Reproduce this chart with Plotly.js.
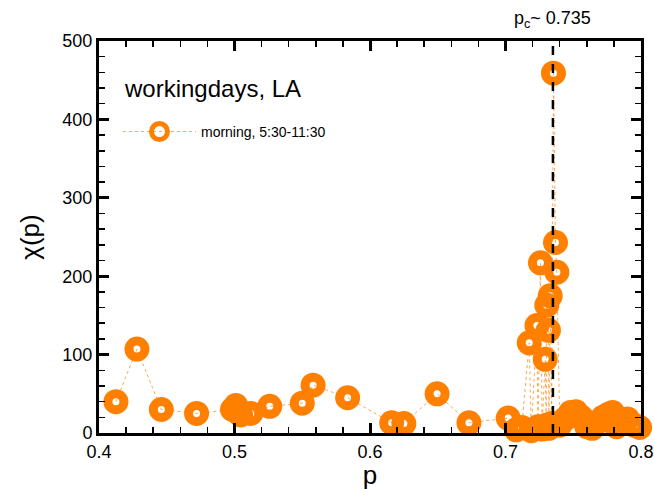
<!DOCTYPE html>
<html>
<head>
<meta charset="utf-8">
<script src="https://cdn.plot.ly/plotly-3.0.1.min.js"></script>
<style>html,body{margin:0;padding:0;background:#fff;}#chart{width:654px;height:490px;}</style>
</head>
<body>
<div id="chart"></div>
<script>
// Occupation probability p
const pValues = [
  0.4125, 0.428, 0.446, 0.472, 0.4985, 0.501, 0.5045, 0.512, 0.526, 0.550,
  0.558, 0.5835, 0.616, 0.625, 0.6495, 0.673,
  0.702, 0.708, 0.712, 0.7175, 0.719, 0.7232, 0.724, 0.7258, 0.727, 0.7293,
  0.730, 0.7305, 0.7317, 0.732, 0.733, 0.734, 0.7354, 0.7369, 0.7379, 0.740,
  0.744, 0.748, 0.752, 0.756, 0.760, 0.764, 0.768, 0.772, 0.776, 0.779,
  0.782, 0.786, 0.790, 0.795, 0.799
];
// Susceptibility chi(p)
const chiValues = [
  40, 107, 30, 25, 30, 35, 23, 25, 34, 38,
  61, 45, 13, 12, 50, 13,
  19, 4, 7, 115, 3, 137, 8, 217, 5, 94,
  10, 163, 131, 6, 175, 12, 459, 243, 205, 10,
  18, 26, 27, 20, 8, 6, 14, 20, 24, 26,
  8, 14, 18, 10, 7
];
const seriesName = "morning, 5:30-11:30";
const panelTitle = "workingdays, LA";
const pCritical = 0.735;
const pCriticalLabel = "p<sub>c</sub>~ 0.735";
const xTicks = [0.4, 0.5, 0.6, 0.7, 0.8];
const yTicks = [0, 100, 200, 300, 400, 500];

const orange = "#ff8000";
const font = "Liberation Sans, Arial, sans-serif";

const trace = {
  x: pValues,
  y: chiValues,
  type: "scatter",
  mode: "lines+markers",
  name: seriesName,
  cliponaxis: false,
  line: {color: "rgba(255,150,50,0.85)", width: 1, dash: "dot"},
  marker: {symbol: "circle-open", size: 16, color: orange, line: {width: 9, color: orange}}
};

const axisCommon = {
  showline: true, linewidth: 3, linecolor: "#000", mirror: "allticks",
  ticks: "inside", ticklen: 10, tickwidth: 3, tickcolor: "#000",
  showgrid: false, zeroline: false,
  tickfont: {family: font, size: 18, color: "#000"},
  minor: {ticks: "inside", ticklen: 6, tickwidth: 1.5, tickcolor: "#000", showgrid: false}
};

const layout = {
  width: 654, height: 490,
  margin: {l: 99, r: 13, t: 41, b: 57},
  paper_bgcolor: "#fff", plot_bgcolor: "#fff",
  font: {family: font, color: "#000"},
  showlegend: true,
  legend: {
    x: 0.035, y: 0.768, xanchor: "left", yanchor: "middle",
    bgcolor: "rgba(0,0,0,0)", itemwidth: 73,
    font: {family: font, size: 14, color: "#000"}
  },
  xaxis: Object.assign({}, axisCommon, {
    range: [0.4, 0.8], tickvals: xTicks, ticktext: xTicks.map(v => v.toFixed(1)),
    minor: Object.assign({}, axisCommon.minor, {dtick: 0.02, tick0: 0.4}),
    title: {text: "p", font: {family: font, size: 26, color: "#000"}, standoff: 6}
  }),
  yaxis: Object.assign({}, axisCommon, {
    range: [0, 500], tickvals: yTicks, ticktext: yTicks.map(String),
    minor: Object.assign({}, axisCommon.minor, {dtick: 20, tick0: 0}),
    title: {text: "χ(p)", font: {family: font, size: 26, color: "#000"}, standoff: 16}
  }),
  shapes: [{
    type: "line", xref: "x", yref: "paper", x0: pCritical, x1: pCritical, y0: 0, y1: 1,
    line: {color: "#000", width: 2.5, dash: "dash"}, layer: "above"
  }],
  annotations: [
    {text: panelTitle, xref: "paper", yref: "paper", x: 0.042, y: 0.878,
     xanchor: "left", yanchor: "middle", showarrow: false,
     font: {family: font, size: 24, color: "#000"}},
    {text: pCriticalLabel, xref: "x", yref: "paper", x: pCritical, y: 1,
     xanchor: "center", yanchor: "bottom", yshift: 8, showarrow: false,
     font: {family: font, size: 18, color: "#000"}}
  ]
};

Plotly.newPlot("chart", [trace], layout, {displayModeBar: false, staticPlot: true});
</script>
</body>
</html>
